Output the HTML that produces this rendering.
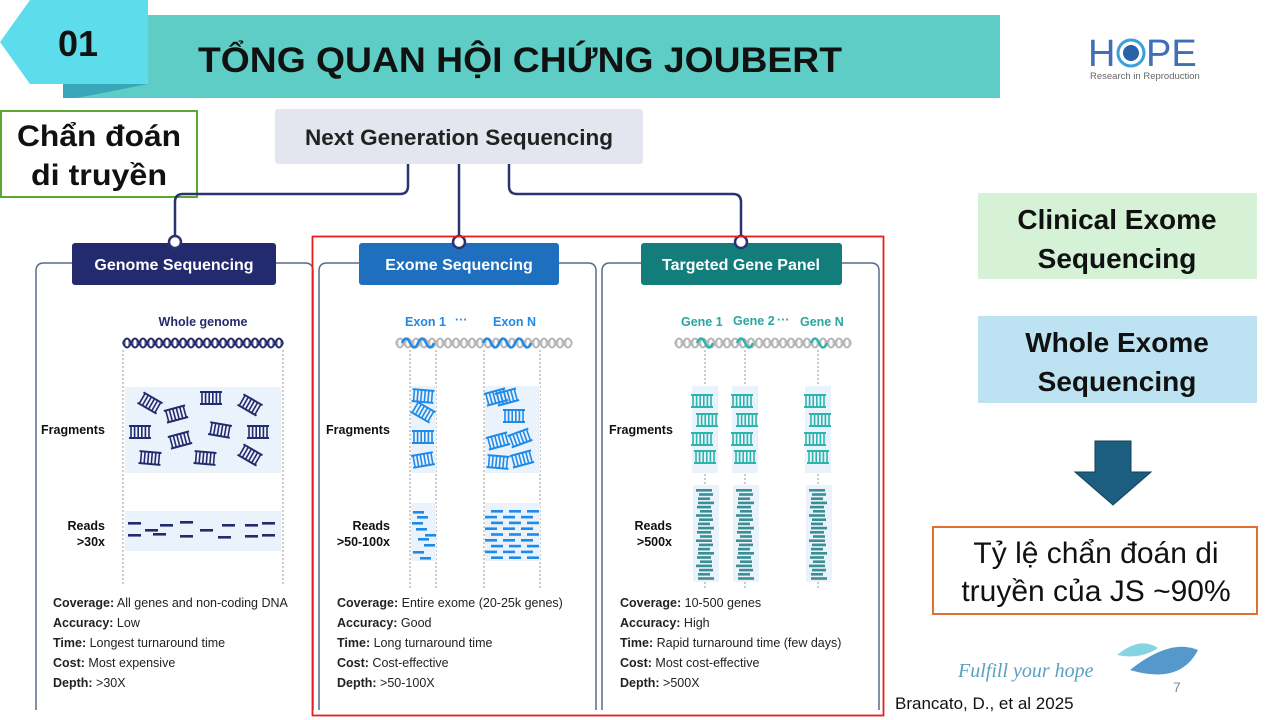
<!DOCTYPE html>
<html><head><meta charset="utf-8">
<style>
body{margin:0;width:1280px;height:720px;overflow:hidden;background:#fff;font-family:"Liberation Sans","DejaVu Sans",sans-serif;position:relative}
.a{position:absolute}
</style></head><body>
<svg class="a" style="left:0;top:0" width="1280" height="720" id="s">
<!-- banner -->
<rect x="77" y="15" width="923" height="83" fill="#5ecdc5"/>
<polygon points="63,84 148,84 77,98 63,98" fill="#3aa7b8"/>
<polygon points="30,0 148,0 148,84 30,84 0,42" fill="#5ddcec"/>
<text x="58" y="56" font-size="36" font-weight="bold" font-family="Liberation Sans" fill="#111">01</text>
<text x="198" y="72" font-size="35" font-weight="bold" font-family="Liberation Sans" fill="#111" textLength="644" lengthAdjust="spacingAndGlyphs">TỔNG QUAN HỘI CHỨNG JOUBERT</text>
<!-- logo -->
<text x="1088" y="66" font-size="38" fill="#3f6fb5" font-family="Liberation Sans">H</text>
<circle cx="1131" cy="53" r="13" fill="none" stroke="#3aa0d8" stroke-width="3"/>
<circle cx="1131" cy="53" r="8" fill="#2a62a8"/>
<text x="1146" y="66" font-size="38" fill="#3f6fb5" font-family="Liberation Sans">PE</text>
<text x="1090" y="79" font-size="9.5" fill="#666" font-family="Liberation Sans">Research in Reproduction</text>
<!-- green box -->
<rect x="1" y="111" width="196" height="86" fill="#fff" stroke="#5aa832" stroke-width="2"/>
<text x="17" y="146" font-size="30" font-weight="bold" font-family="Liberation Sans" fill="#111" textLength="164" lengthAdjust="spacingAndGlyphs">Chẩn đoán</text>
<text x="31" y="185" font-size="30" font-weight="bold" font-family="Liberation Sans" fill="#111" textLength="136" lengthAdjust="spacingAndGlyphs">di truyền</text>
<!-- NGS -->
<rect x="275" y="109" width="368" height="55" rx="3" fill="#e3e6ef"/>
<text x="305" y="145" font-size="22" font-weight="bold" font-family="Liberation Sans" fill="#222" textLength="308" lengthAdjust="spacingAndGlyphs">Next Generation Sequencing</text>
<g fill="none" stroke="#2b3270" stroke-width="2.5">
<path d="M408 164 V186 Q408 194 400 194 H183 Q175 194 175 202 V243"/>
<path d="M459 164 V243"/>
<path d="M509 164 V186 Q509 194 517 194 H733 Q741 194 741 202 V243"/>
</g>
<!-- panels -->
<g fill="none" stroke="#5a6a8a" stroke-width="1.5">
<path d="M72 263 H44 Q36 263 36 271 V710 M276 263 H305 Q313 263 313 271 V710"/>
<path d="M359 263 H327 Q319 263 319 271 V710 M559 263 H588 Q596 263 596 271 V710"/>
<path d="M641 263 H610 Q602 263 602 271 V710 M842 263 H871 Q879 263 879 271 V710"/>
</g>
<rect x="72" y="243" width="204" height="42" rx="3" fill="#232b6e"/>
<rect x="359" y="243" width="200" height="42" rx="3" fill="#1f6fbf"/>
<rect x="641" y="243" width="201" height="42" rx="3" fill="#137d7c"/>
<g font-family="Liberation Sans" font-weight="bold" font-size="16" fill="#fff" text-anchor="middle">
<text x="174" y="270">Genome Sequencing</text>
<text x="459" y="270">Exome Sequencing</text>
<text x="741" y="270">Targeted Gene Panel</text>
</g>
<g fill="#fff" stroke-width="2.5">
<circle cx="175" cy="242" r="6" stroke="#2b3270"/>
<circle cx="459" cy="242" r="6" stroke="#2b3270"/>
<circle cx="741" cy="242" r="6" stroke="#2b3270"/>
</g>
<rect x="312.5" y="236.5" width="571" height="479" fill="none" stroke="#e61e1e" stroke-width="1.8"/>
<!-- labels -->
<g font-family="Liberation Sans" font-weight="bold" font-size="12.5" fill="#111">
<text x="41" y="434">Fragments</text>
<text x="105" y="530" text-anchor="end">Reads</text><text x="105" y="546" text-anchor="end">&gt;30x</text>
<text x="326" y="434">Fragments</text>
<text x="390" y="530" text-anchor="end">Reads</text><text x="390" y="546" text-anchor="end">&gt;50-100x</text>
<text x="609" y="434">Fragments</text>
<text x="672" y="530" text-anchor="end">Reads</text><text x="672" y="546" text-anchor="end">&gt;500x</text>
</g>
<g font-family="Liberation Sans" font-weight="bold" font-size="12.5">
<text x="203" y="326" text-anchor="middle" fill="#232b6e">Whole genome</text>
<text x="405" y="326" fill="#1f8ae8">Exon 1</text><text x="455" y="324" fill="#1f8ae8">···</text><text x="493" y="326" fill="#1f8ae8">Exon N</text>
<text x="681" y="326" fill="#2aa6a0">Gene 1</text><text x="733" y="325" fill="#2aa6a0">Gene 2</text><text x="777" y="324" fill="#2aa6a0">···</text><text x="800" y="326" fill="#2aa6a0">Gene N</text>
</g>
<g id="dyn"></g>
<g font-family="Liberation Sans" font-size="12.5" fill="#222" id="txt"></g>
<!-- right -->
<rect x="978" y="193" width="279" height="86" fill="#d5f2d7"/>
<text x="1117" y="229" text-anchor="middle" font-size="28" font-weight="bold" font-family="Liberation Sans" fill="#111">Clinical Exome</text>
<text x="1117" y="268" text-anchor="middle" font-size="28" font-weight="bold" font-family="Liberation Sans" fill="#111">Sequencing</text>
<rect x="978" y="316" width="279" height="87" fill="#bde3f2"/>
<text x="1117" y="352" text-anchor="middle" font-size="28" font-weight="bold" font-family="Liberation Sans" fill="#111">Whole Exome</text>
<text x="1117" y="391" text-anchor="middle" font-size="28" font-weight="bold" font-family="Liberation Sans" fill="#111">Sequencing</text>
<polygon points="1095,441 1131,441 1131,472 1151,472 1113,505 1075,472 1095,472" fill="#1b5e80" stroke="#124058"/>
<rect x="933" y="527" width="324" height="87" fill="#fff" stroke="#e07030" stroke-width="2"/>
<text x="1096" y="563" text-anchor="middle" font-size="30" font-family="Liberation Sans" fill="#111">Tỷ lệ chẩn đoán di</text>
<text x="1096" y="601" text-anchor="middle" font-size="30" font-family="Liberation Sans" fill="#111">truyền của JS ~90%</text>
<text x="958" y="677" font-size="20" font-style="italic" font-family="Liberation Serif" fill="#5aa0c0">Fulfill your hope</text>
<path d="M1117 655 Q1140 636 1158 648 Q1140 660 1117 655Z" fill="#86d3e2"/>
<path d="M1130 670 Q1170 638 1198 650 Q1180 685 1130 670Z" fill="#5599cc"/>
<text x="1173" y="692" font-size="14" font-family="Liberation Sans" fill="#888">7</text>
<text x="895" y="709" font-size="17" font-family="Liberation Sans" fill="#111">Brancato, D., et al 2025</text>
</svg>
<script>
var NS="http://www.w3.org/2000/svg",g=document.getElementById("dyn");
function el(t,a){var e=document.createElementNS(NS,t);for(var k in a)e.setAttribute(k,a[k]);g.appendChild(e);return e;}
function helix(x0,x1,y,col,hl){var p1="",p2="",n=Math.round((x1-x0)/16);for(var i=0;i<n;i++){var a=x0+i*16;p1+=(i?"":"M"+a+" "+y)+" Q"+(a+4)+" "+(y-9)+" "+(a+8)+" "+y+" Q"+(a+12)+" "+(y+9)+" "+(a+16)+" "+y;p2+=(i?"":"M"+a+" "+y)+" Q"+(a+4)+" "+(y+9)+" "+(a+8)+" "+y+" Q"+(a+12)+" "+(y-9)+" "+(a+16)+" "+y;}
el("path",{d:p1,fill:"none",stroke:col,"stroke-width":2});el("path",{d:p2,fill:"none",stroke:col,"stroke-width":2});
for(var x=x0+2;x<x1;x+=4)el("line",{x1:x,x2:x,y1:y-4,y2:y+4,stroke:col,"stroke-width":0.8});
if(hl)hl.forEach(function(h){var s="",m=Math.round((h[1]-h[0])/16);for(var i=0;i<m;i++){var a=h[0]+i*16;s+=(i?"":"M"+a+" "+y)+" Q"+(a+4)+" "+(y-9)+" "+(a+8)+" "+y+" Q"+(a+12)+" "+(y+9)+" "+(a+16)+" "+y;}el("path",{d:s,fill:"none",stroke:h[2],"stroke-width":2.5});});}
function dot(x,y1,y2){el("line",{x1:x,x2:x,y1:y1,y2:y2,stroke:"#999","stroke-width":1,"stroke-dasharray":"2,2"});}
function box(x,y,w,h){el("rect",{x:x,y:y,width:w,height:h,fill:"#eaf2fb"});}
function lad(cx,cy,r,col){var gg=el("g",{transform:"translate("+cx+","+cy+") rotate("+r+")"});
function a(t,o){var e=document.createElementNS(NS,t);for(var k in o)e.setAttribute(k,o[k]);gg.appendChild(e);}
a("line",{x1:-11,x2:11,y1:-6,y2:-6,stroke:col,"stroke-width":2});a("line",{x1:-11,x2:11,y1:6,y2:6,stroke:col,"stroke-width":2});
for(var x=-9;x<=9;x+=3.6)a("line",{x1:x,x2:x,y1:-6,y2:6,stroke:col,"stroke-width":1.6});}
function dash(x,y,w,col){el("rect",{x:x,y:y,width:w,height:2.6,fill:col});}
var C1="#232b6e";box(125,387,156,86);box(125,511,156,40);dot(123,350,585);dot(283,350,585);
helix(123,283,343,C1);
[[150,403,30],[211,398,0],[250,405,30],[140,432,0],[180,440,-15],[220,430,10],[258,432,0],[176,414,-15],[150,458,5],[205,458,5],[250,455,30]].forEach(function(f){lad(f[0],f[1],f[2],C1);});
[[128,522],[145,529],[160,524],[180,521],[200,529],[222,524],[245,524],[262,522],[128,534],[153,533],[180,535],[218,536],[245,535],[262,534]].forEach(function(d){dash(d[0],d[1],13,C1);});
var C2="#1f8ae8";helix(396,570,343,"#b5b5b5",[[402,427,C2],[483,533,C2]]);
dot(410,350,590);dot(436,350,590);dot(484,350,590);dot(540,350,590);
box(411,386,25,87);box(485,386,55,87);box(411,503,25,58);box(485,503,55,58);
[[423,396,5],[423,412,30],[423,437,0],[423,460,-10],[496,397,-15],[507,397,-15],[514,416,0],[498,441,-15],[520,438,-20],[498,462,5],[522,459,-15]].forEach(function(f){lad(f[0],f[1],f[2],C2);});
[[413,511],[417,516],[412,522],[416,528],[425,534],[418,538],[424,544],[413,551],[420,557]].forEach(function(d){dash(d[0],d[1],11,C2);});
for(var r=0;r<9;r++){for(var c=0;c<3;c++){var xx=487+c*18+((r%2)?-2:4);if(xx+12<540)dash(xx,510+r*5.8,12,C2);}}
var C3="#2bb5ad",C4="#3a8f93";helix(675,852,343,"#b5b5b5",[[697,713,C3],[737,753,C3],[811,827,C3]]);
[705,745,818].forEach(function(cx){dot(cx,350,590);box(cx-13,386,26,87);box(cx-12,485,26,97);
[[-3,401],[2,420],[-3,439],[0,457]].forEach(function(f){lad(cx+f[0],f[1],0,C3);});
for(var i=0;i<22;i++){var w=(i%3==0)?16:(i%3==1?14:12);dash(cx-w/2+((i%2)?1:-1),489+i*4.2,w,C4);}});
var t=document.getElementById("txt");
function txt(x,y,b,n){var e=document.createElementNS(NS,"text");e.setAttribute("x",x);e.setAttribute("y",y);var s=document.createElementNS(NS,"tspan");s.setAttribute("font-weight","bold");s.textContent=b;e.appendChild(s);e.appendChild(document.createTextNode(" "+n));t.appendChild(e);}
var L=[["Coverage:","All genes and non-coding DNA","Entire exome (20-25k genes)","10-500 genes"],["Accuracy:","Low","Good","High"],["Time:","Longest turnaround time","Long turnaround time","Rapid turnaround time (few days)"],["Cost:","Most expensive","Cost-effective","Most cost-effective"],["Depth:",">30X",">50-100X",">500X"]];
L.forEach(function(l,i){var y=607+i*20;txt(53,y,l[0],l[1]);txt(337,y,l[0],l[2]);txt(620,y,l[0],l[3]);});
</script>
</body></html>
